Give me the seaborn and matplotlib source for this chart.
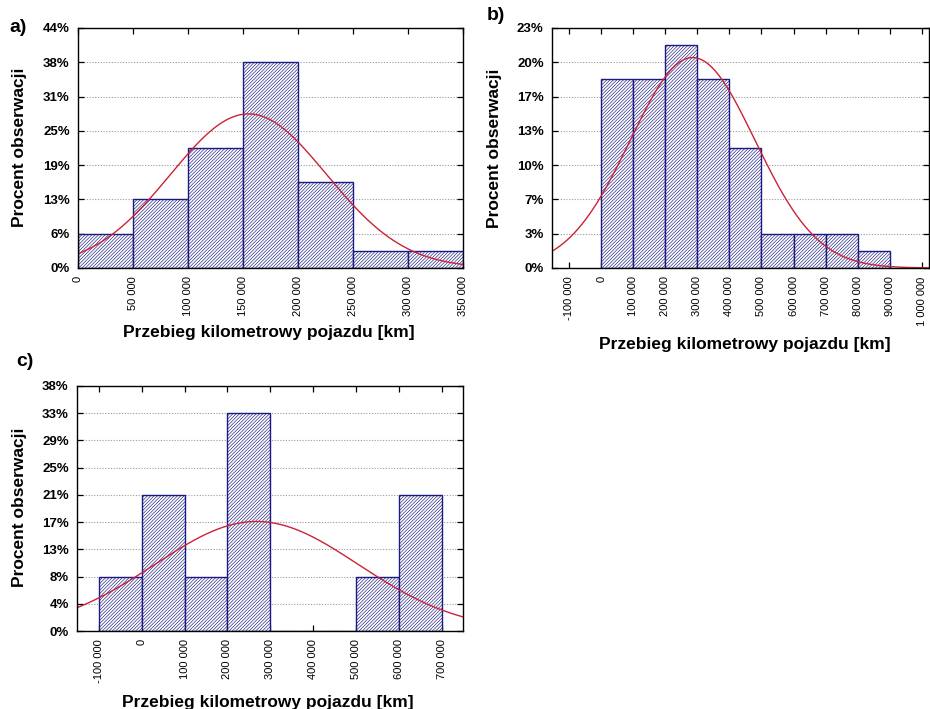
import numpy as np
import matplotlib
matplotlib.use("Agg")
import matplotlib.pyplot as plt
import seaborn as sns

sns.set_style("ticks")
plt.rcParams['font.family'] = ['Liberation Sans', 'DejaVu Sans']
plt.rcParams['hatch.linewidth'] = 0.45
for k in ['text.color', 'axes.labelcolor', 'xtick.color', 'ytick.color']:
    plt.rcParams[k] = 'black'

# ---------------- data ----------------
# Panel a)
a_edges = [0, 50000, 100000, 150000, 200000, 250000, 300000, 350000]
a_pct = [6.25, 12.5, 21.875, 37.5, 15.625, 3.125, 3.125]
a_yticks = [0, 6.25, 12.5, 18.75, 25, 31.25, 37.5, 43.75]
a_yticklabels = ['0%', '6%', '13%', '19%', '25%', '31%', '38%', '44%']
a_xticks = [0, 50000, 100000, 150000, 200000, 250000, 300000, 350000]
a_xlim = (0, 350000)
a_mean, a_sd = 155000, 71000

# Panel b)
b_edges = [0, 100000, 200000, 300000, 400000, 500000, 600000, 700000, 800000, 900000]
b_pct = [18.33, 18.33, 21.67, 18.33, 11.67, 3.33, 3.33, 3.33, 1.67]
b_yticks = [0, 3.333, 6.667, 10, 13.333, 16.667, 20, 23.333]
b_yticklabels = ['0%', '3%', '7%', '10%', '13%', '17%', '20%', '23%']
b_xticks = [-100000, 0, 100000, 200000, 300000, 400000, 500000, 600000,
            700000, 800000, 900000, 1000000]
b_xlim = (-154000, 1023000)
b_mean, b_sd = 285000, 195000

# Panel c)
c_edges = [-100000, 0, 100000, 200000, 300000, 400000, 500000, 600000, 700000]
c_pct = [8.33, 20.83, 8.33, 33.33, 0, 0, 8.33, 20.83]
c_yticks = [0, 4.167, 8.333, 12.5, 16.667, 20.833, 25, 29.167, 33.333, 37.5]
c_yticklabels = ['0%', '4%', '8%', '13%', '17%', '21%', '25%', '29%', '33%', '38%']
c_xticks = [-100000, 0, 100000, 200000, 300000, 400000, 500000, 600000, 700000]
c_xlim = (-151000, 750000)
c_mean, c_sd = 268000, 238000

XLABEL = "Przebieg kilometrowy pojazdu [km]"
YLABEL = "Procent obserwacji"

NAVY = '#1a1a80'
RED = '#cc2236'

W, H = 930, 709
fig = plt.figure(figsize=(W / 100, H / 100), dpi=100)


def add_axes(L, R, T, B):
    return fig.add_axes([L / W, (H - B) / H, (R - L) / W, (B - T) / H])


def fmt(v):
    return f"{v:,}".replace(",", " ")


def panel(box, edges, pct, yticks, ylabels, xticks, xlim, mean, sd,
          letter, letter_xy, xlabel_xy, ylabel_xy):
    L, R, T, B = box
    ax = add_axes(L, R, T, B)
    mids = [(edges[i] + edges[i + 1]) / 2 for i in range(len(pct))]
    sns.histplot(x=mids, weights=pct, bins=edges, stat='count', ax=ax,
                 facecolor='white', edgecolor=NAVY, hatch='//////////',
                 linewidth=1.0, alpha=1)
    binw = edges[1] - edges[0]
    xs = np.linspace(xlim[0], xlim[1], 400)
    ys = 100 * binw / (sd * np.sqrt(2 * np.pi)) * np.exp(-0.5 * ((xs - mean) / sd) ** 2)
    sns.lineplot(x=xs, y=ys, ax=ax, color=RED, linewidth=1.0)

    ax.set_xlim(*xlim)
    ax.set_ylim(0, yticks[-1])
    ax.set_axisbelow(True)
    ax.yaxis.grid(True, linestyle=(0, (1, 1.5)), color='#9a9a9a', linewidth=0.8)
    ax.xaxis.grid(False)
    ax.set_yticks(yticks, ylabels, fontsize=9.5, fontweight='bold')
    ax.set_xticks(xticks, [fmt(v) for v in xticks], rotation=90, fontsize=8)
    ax.tick_params(direction='in', top=True, right=True, length=4, width=0.9,
                   colors='black')
    ax.tick_params(axis='x', pad=6)
    ax.tick_params(axis='y', pad=6)
    for s in ax.spines.values():
        s.set_color('black')
        s.set_linewidth(1.0)

    ax.set_xlabel(XLABEL, fontsize=12.5, fontweight='bold')
    ax.set_ylabel(YLABEL, fontsize=12.5, fontweight='bold')
    ax.xaxis.label.set_va('center')
    ax.yaxis.label.set_va('center')
    ax.xaxis.set_label_coords((xlabel_xy[0] - L) / (R - L), (B - xlabel_xy[1]) / (B - T))
    ax.yaxis.set_label_coords((ylabel_xy[0] - L) / (R - L), (B - ylabel_xy[1]) / (B - T))

    fig.text(letter_xy[0] / W, (H - letter_xy[1]) / H, letter, fontsize=14,
             fontweight='bold', ha='left', va='center')
    return ax


panel((78, 463, 28, 268), a_edges, a_pct, a_yticks, a_yticklabels, a_xticks,
      a_xlim, a_mean, a_sd, 'a)', (9, 27), (269, 332), (19, 147))
panel((552, 929, 28, 268), b_edges, b_pct, b_yticks, b_yticklabels, b_xticks,
      b_xlim, b_mean, b_sd, 'b)', (487, 16), (745, 345), (494, 148))
panel((77, 463, 386, 631), c_edges, c_pct, c_yticks, c_yticklabels, c_xticks,
      c_xlim, c_mean, c_sd, 'c)', (16, 362), (268, 702), (19, 507))

fig.savefig("out.png", dpi=100)
